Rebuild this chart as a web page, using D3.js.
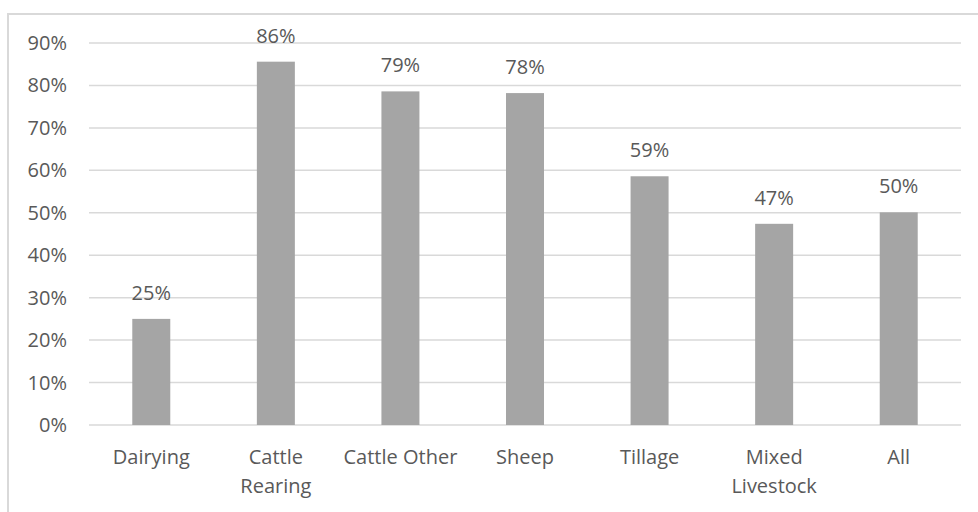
<!DOCTYPE html>
<html>
<head>
<meta charset="utf-8">
<script src="https://cdn.jsdelivr.net/npm/d3@7"></script>
<style>
  html, body { margin: 0; padding: 0; background: #fff; }
  svg { display: block; }
  text { font-family: "Open Sans", "Liberation Sans", sans-serif; fill: #595959; }
</style>
</head>
<body>
<svg id="chart" width="978" height="512"></svg>
<script>
// Share of farms by farm type
const categories = ["Dairying", "Cattle Rearing", "Cattle Other", "Sheep", "Tillage", "Mixed Livestock", "All"];
const categoryLines = [["Dairying"], ["Cattle", "Rearing"], ["Cattle Other"], ["Sheep"], ["Tillage"], ["Mixed", "Livestock"], ["All"]];
const values = [0.25, 0.856, 0.786, 0.782, 0.586, 0.474, 0.501];
const tickValues = [0, 0.1, 0.2, 0.3, 0.4, 0.5, 0.6, 0.7, 0.8, 0.9];

const W = 978, H = 512;
const margin = { top: 43, right: 17, bottom: 87, left: 89 };
const svg = d3.select("#chart");

// chart frame
svg.append("rect")
  .attr("x", 8).attr("y", 14)
  .attr("width", W + 10).attr("height", H + 10)
  .attr("fill", "none")
  .attr("stroke", "#d9d9d9")
  .attr("stroke-width", 2);

const x = d3.scaleBand()
  .domain(categories)
  .range([margin.left, W - margin.right])
  .paddingInner(0.695)
  .paddingOuter(0.3475);

const y = d3.scaleLinear()
  .domain([0, 0.9])
  .range([H - margin.bottom, margin.top]);

const pct = d3.format(".0%");

// horizontal gridlines
svg.append("g")
  .selectAll("line")
  .data(tickValues)
  .join("line")
  .attr("x1", margin.left)
  .attr("x2", W - margin.right)
  .attr("y1", d => y(d))
  .attr("y2", d => y(d))
  .attr("stroke", "#d9d9d9")
  .attr("stroke-width", 1.5);

// y tick labels
svg.append("g")
  .selectAll("text")
  .data(tickValues)
  .join("text")
  .attr("x", 67)
  .attr("y", d => y(d))
  .attr("dy", "0.35em")
  .attr("text-anchor", "end")
  .attr("font-size", 20)
  .text(d => pct(d));

// bars
svg.append("g")
  .selectAll("rect")
  .data(values)
  .join("rect")
  .attr("x", (d, i) => x(categories[i]))
  .attr("y", d => y(d))
  .attr("width", x.bandwidth())
  .attr("height", d => y(0) - y(d))
  .attr("fill", "#a5a5a5");

// value labels
svg.append("g")
  .selectAll("text")
  .data(values)
  .join("text")
  .attr("x", (d, i) => x(categories[i]) + x.bandwidth() / 2)
  .attr("y", d => y(d) - 19)
  .attr("text-anchor", "middle")
  .attr("font-size", 20)
  .text(d => pct(d));

// category labels
const cat = svg.append("g")
  .selectAll("text")
  .data(categories)
  .join("text")
  .attr("x", d => x(d) + x.bandwidth() / 2)
  .attr("y", 464)
  .attr("text-anchor", "middle")
  .attr("font-size", 20);

cat.selectAll("tspan")
  .data((d, i) => categoryLines[i])
  .join("tspan")
  .attr("x", function () { return d3.select(this.parentNode).attr("x"); })
  .attr("dy", (d, i) => i === 0 ? 0 : 29)
  .text(d => d);
</script>
</body>
</html>
